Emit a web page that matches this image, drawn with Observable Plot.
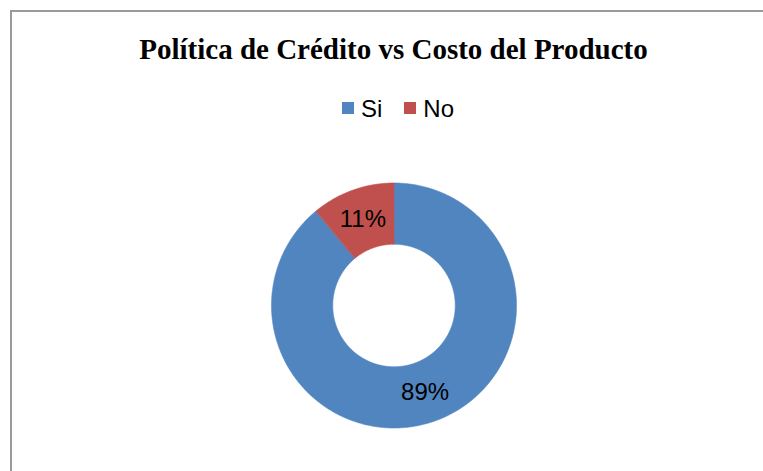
<!DOCTYPE html>
<html>
<head>
<meta charset="utf-8">
<script src="https://cdn.jsdelivr.net/npm/d3@7"></script>
<script src="https://cdn.jsdelivr.net/npm/@observablehq/plot@0.6"></script>
<style>
  html, body { margin: 0; padding: 0; background: #fff; }
  #wrap { position: relative; width: 763px; height: 471px; overflow: hidden; background: #fff; }
  #frame { position: absolute; left: 10px; top: 10px; width: 800px; height: 500px;
           border-left: 2px solid #9a9a9a; border-top: 2px solid #9a9a9a; }
  #title { position: absolute; left: 12px; width: 763px; top: 35px; text-align: center;
           font: bold 29px "Liberation Serif", "Times New Roman", serif; line-height: 29px; color: #000; white-space: nowrap; }
  #legend { position: absolute; left: 16.5px; width: 763px; top: 96.7px; text-align: center;
            font: 24px "Liberation Sans", Arial, sans-serif; line-height: 24px; color: #000; white-space: nowrap; }
  #legend .item { display: inline-block; margin: 0 11px; }
  #legend .sw { display: inline-block; width: 12px; height: 12px; margin-right: 7px; margin-bottom: 3px; vertical-align: baseline; }
  #chart { position: absolute; left: 0; top: 130px; }
</style>
</head>
<body>
<div id="wrap">
  <div id="frame"></div>
  <div id="title">Política de Crédito vs Costo del Producto</div>
  <div id="legend"></div>
  <div id="chart"></div>
</div>
<script>
// ---- data ----
const categories = ["Si", "No"];
const values = [89, 11];
const colors = ["#5085C0", "#C0504D"];
const labels = ["89%", "11%"];

// ---- legend ----
const legend = document.getElementById("legend");
categories.forEach((c, i) => {
  const item = document.createElement("span");
  item.className = "item";
  const sw = document.createElement("span");
  sw.className = "sw";
  sw.style.background = colors[i];
  item.appendChild(sw);
  item.appendChild(document.createTextNode(c));
  legend.appendChild(item);
});

// ---- donut geometry (unit radius space) ----
const rows = categories.map((c, i) => ({cat: c, value: values[i], label: labels[i]}));
const arcs = d3.pie().sort(null).value(d => d.value)(rows);
const outerR = 1, innerR = 0.5, labelR = 0.75;
const pts = [];
arcs.forEach(a => {
  const n = Math.max(2, Math.ceil((a.endAngle - a.startAngle) / (Math.PI / 360)));
  for (let k = 0; k <= n; k++) {
    const t = a.startAngle + (a.endAngle - a.startAngle) * k / n;
    pts.push({cat: a.data.cat, x: outerR * Math.sin(t), y: outerR * Math.cos(t)});
  }
  for (let k = n; k >= 0; k--) {
    const t = a.startAngle + (a.endAngle - a.startAngle) * k / n;
    pts.push({cat: a.data.cat, x: innerR * Math.sin(t), y: innerR * Math.cos(t)});
  }
});
const labelPts = arcs.map(a => {
  const m = (a.startAngle + a.endAngle) / 2;
  return {text: a.data.label, x: labelR * Math.sin(m), y: labelR * Math.cos(m)};
});

const cx = 393.5, cy = 175, R = 122.5;
const chart = Plot.plot({
  width: 763,
  height: 341,
  margin: 0,
  style: {background: "transparent", fontFamily: "'Liberation Sans', Arial, sans-serif"},
  x: {domain: [-1, 1], range: [cx - R, cx + R], axis: null},
  y: {domain: [-1, 1], range: [cy + R, cy - R], axis: null},
  color: {domain: categories, range: colors},
  marks: [
    Plot.line(pts, {x: "x", y: "y", z: "cat", fill: "cat", stroke: "cat", strokeWidth: 0.6, curve: "linear-closed"}),
    Plot.text(labelPts, {x: "x", y: "y", text: "text", fontSize: 24, fill: "#000"})
  ]
});
document.getElementById("chart").appendChild(chart);
</script>
</body>
</html>
